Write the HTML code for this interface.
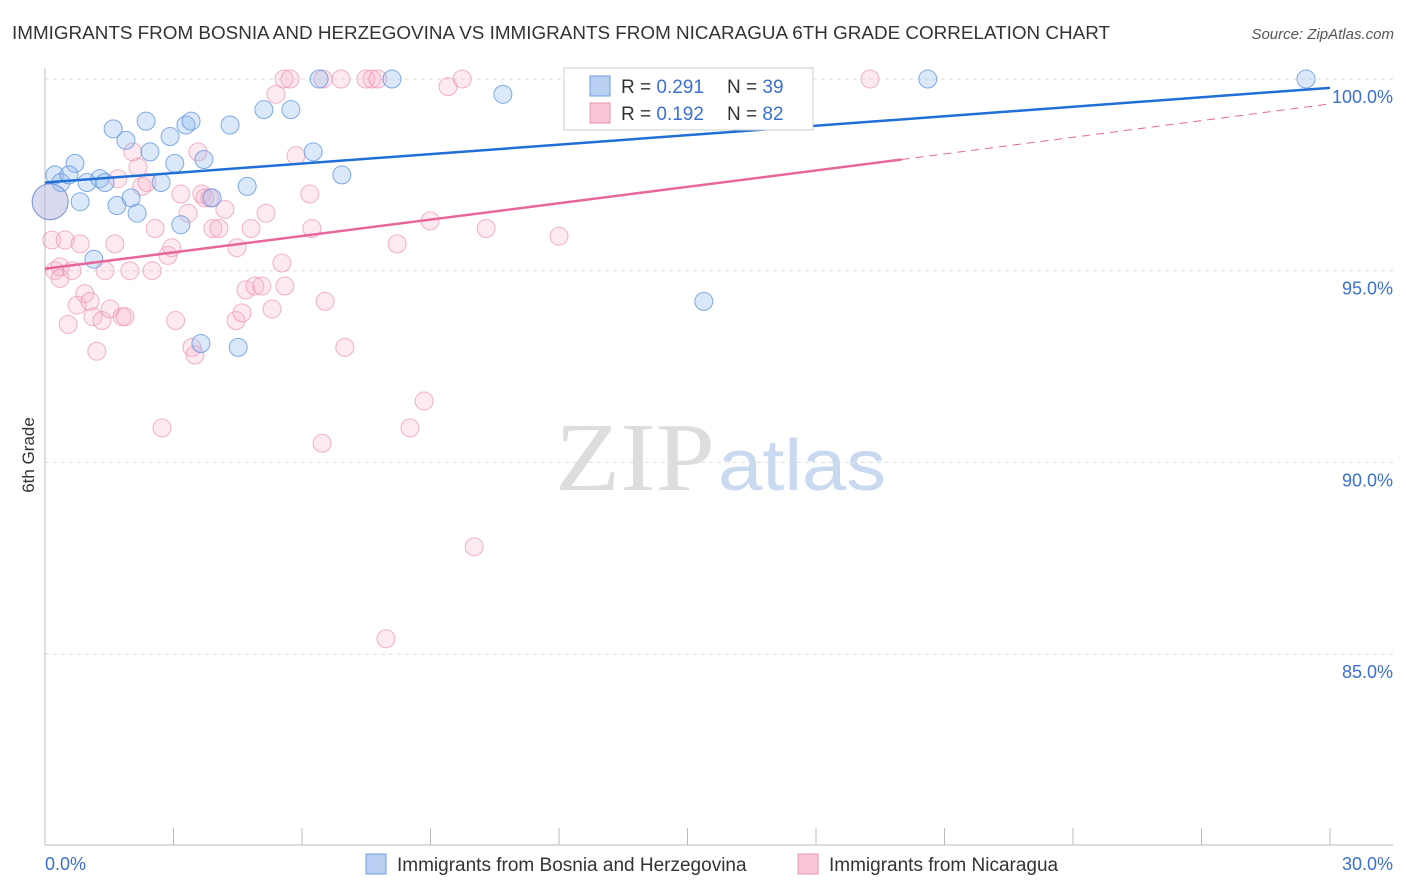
<!DOCTYPE html>
<html><head><meta charset="utf-8"><style>
body{margin:0;background:#fff;font-family:"Liberation Sans",sans-serif;}
svg{display:block}
</style></head><body>
<svg width="1406" height="892" xmlns="http://www.w3.org/2000/svg">
<text x="12" y="39" font-size="18" fill="#333" textLength="1098" lengthAdjust="spacingAndGlyphs">IMMIGRANTS FROM BOSNIA AND HERZEGOVINA VS IMMIGRANTS FROM NICARAGUA 6TH GRADE CORRELATION CHART</text>
<text x="1394" y="39" font-size="15" fill="#555" font-style="italic" text-anchor="end">Source: ZipAtlas.com</text>
<text x="555" y="490" font-size="98" fill="#ddd" textLength="160" lengthAdjust="spacingAndGlyphs" font-family="Liberation Serif">ZIP</text>
<text x="718" y="490" font-size="72" fill="#c9d9f0" textLength="168" lengthAdjust="spacingAndGlyphs">atlas</text>
<g id="grid"></g>
<g id="axes"></g>
<g id="marks"></g>
<text transform="translate(34,455) rotate(-90)" font-size="17" fill="#333" text-anchor="middle">6th Grade</text>
<text x="45" y="870" font-size="18" fill="#3b6fd0">0.0%</text>
<text x="1393" y="870" font-size="18" fill="#3b6fd0" text-anchor="end">30.0%</text>
<g>
<rect x="564" y="68" width="249" height="62" fill="#fff" stroke="#ccc"/>
<rect x="590" y="76" width="20" height="20" fill="#b9d0f3" stroke="#6f9be0"/>
<text x="621" y="93" font-size="19" fill="#333">R = <tspan fill="#3b6fd0">0.291</tspan></text>
<text x="727" y="93" font-size="19" fill="#333">N = <tspan fill="#3b6fd0">39</tspan></text>
<rect x="590" y="103" width="20" height="20" fill="#f8c6d6" stroke="#e991ae"/>
<text x="621" y="120" font-size="19" fill="#333">R = <tspan fill="#3b6fd0">0.192</tspan></text>
<text x="727" y="120" font-size="19" fill="#333">N = <tspan fill="#3b6fd0">82</tspan></text>
</g>
<g>
<rect x="366" y="854" width="20" height="20" fill="#b9d0f3" stroke="#6f9be0"/>
<text x="397" y="871" font-size="19" fill="#333">Immigrants from Bosnia and Herzegovina</text>
<rect x="798" y="854" width="20" height="20" fill="#f8c6d6" stroke="#e991ae"/>
<text x="829" y="871" font-size="19" fill="#333">Immigrants from Nicaragua</text>
</g>
</svg>
<script>
const yTicks=[100,95,90,85];
const yTickLabels=["100.0%","95.0%","90.0%","85.0%"];
const xTicks=[0,3,6,9,12,15,18,21,24,27,30];
const blueX=[0.23,0.37,0.7,0.56,0.98,0.82,1.28,1.4,1.59,1.68,1.89,2.01,2.15,2.36,2.45,2.71,2.92,3.03,3.17,3.29,3.41,3.71,3.64,4.32,4.51,4.72,5.11,5.74,6.26,6.4,6.93,8.1,10.69,15.38,20.61,29.44,1.14,3.9,0.12];
const blueY=[97.5,97.3,97.8,97.5,97.3,96.8,97.4,97.3,98.7,96.7,98.4,96.9,96.5,98.9,98.1,97.3,98.5,97.8,96.2,98.8,98.9,97.9,93.1,98.8,93.0,97.2,99.2,99.2,98.1,100,97.5,100,99.6,94.2,100,100,95.3,96.9,96.8];
const pinkX=[0.16,0.23,0.35,0.35,0.47,0.54,0.63,0.75,0.82,0.93,1.05,1.12,1.21,1.33,1.4,1.52,1.63,1.7,1.8,1.87,1.98,2.05,2.17,2.26,2.38,2.5,2.57,2.73,2.87,2.96,3.05,3.17,3.34,3.43,3.5,3.57,3.66,3.73,3.85,3.92,4.06,4.2,4.46,4.48,4.6,4.69,4.81,4.9,5.06,5.16,5.3,5.39,5.53,5.58,5.6,5.72,5.86,6.18,6.23,6.47,6.49,6.54,6.91,7.0,7.49,7.63,7.77,7.96,8.22,8.52,8.85,8.99,9.41,9.74,10.02,10.3,12.0,16.13,19.26,0.12];
const pinkY=[95.8,95.0,95.1,94.8,95.8,93.6,95.0,94.1,95.7,94.4,94.2,93.8,92.9,93.7,95.0,94.0,95.7,97.4,93.8,93.8,95.0,98.1,97.7,97.2,97.3,95.0,96.1,90.9,95.4,95.6,93.7,97.0,96.5,93.0,92.8,98.1,97.0,96.9,96.9,96.1,96.1,96.6,93.7,95.6,93.9,94.5,96.1,94.6,94.6,96.5,94.0,99.6,95.2,100,94.6,100,98.0,97.0,96.1,90.5,100,94.2,100,93.0,100,100,100,85.4,95.7,90.9,91.6,96.3,99.8,100,87.8,96.1,95.9,100,100,96.8];
const blueTrend=[[0,97.3],[30,99.77]];
const pinkTrend=[[0,95.05],[20,97.9],[30,99.35]];
const X0=45,X1=1330,Y0=79,PX5=191.7;
const sx=v=>X0+(X1-X0)*v/30;
const sy=v=>Y0+(100-v)*PX5/5;
const NS="http://www.w3.org/2000/svg";
function mk(tag,attrs,parent){const e=document.createElementNS(NS,tag);for(const k in attrs)e.setAttribute(k,attrs[k]);parent.appendChild(e);return e;}
const grid=document.getElementById('grid'),axes=document.getElementById('axes'),marks=document.getElementById('marks');
yTicks.forEach((t,i)=>{
 const l=mk('line',{x1:45,x2:1393,y1:sy(t),y2:sy(t),stroke:'#ddd','stroke-dasharray':'4,4'},grid);
 
 
 const tx=mk('text',{x:1393,y:sy(t)+24,'font-size':18,fill:'#3b6fd0','text-anchor':'end'},grid);
 tx.textContent=yTickLabels[i];
 
 
});
const ya=mk('line',{x1:45,x2:45,y1:68,y2:845,stroke:'#bbb'},axes);


const xa=mk('line',{x1:45,x2:1393,y1:845,y2:845,stroke:'#bbb'},axes);


xTicks.forEach(t=>{
 const l=mk('line',{x1:sx(t),x2:sx(t),y1:828,y2:845,stroke:'#bbb'},axes);
 
 
});
function pts(xs,ys,fill,stroke,name){
 xs.forEach((x,i)=>{
  const big=(i===xs.length-1);
  const c=mk('circle',{cx:sx(x),cy:sy(ys[i]),r:big?18:9,fill:fill,stroke:stroke,'stroke-width':1},marks);
  
  
 });
}
pts(pinkX,pinkY,'rgba(248,175,200,0.28)','rgba(235,140,172,0.65)','point-nicaragua');
pts(blueX,blueY,'rgba(150,188,238,0.35)','rgba(80,138,222,0.7)','point-bosnia');
const bl=mk('line',{x1:sx(blueTrend[0][0]),y1:sy(blueTrend[0][1]),x2:sx(blueTrend[1][0]),y2:sy(blueTrend[1][1]),stroke:'#1f6fd6','stroke-width':2.5},marks);


const pl=mk('line',{x1:sx(pinkTrend[0][0]),y1:sy(pinkTrend[0][1]),x2:sx(pinkTrend[1][0]),y2:sy(pinkTrend[1][1]),stroke:'#e8679a','stroke-width':2.5},marks);


const pd=mk('line',{x1:sx(pinkTrend[1][0]),y1:sy(pinkTrend[1][1]),x2:sx(pinkTrend[2][0]),y2:sy(pinkTrend[2][1]),stroke:'#e8679a','stroke-width':1,'stroke-dasharray':'8,6'},marks);


</script>
</body></html>
